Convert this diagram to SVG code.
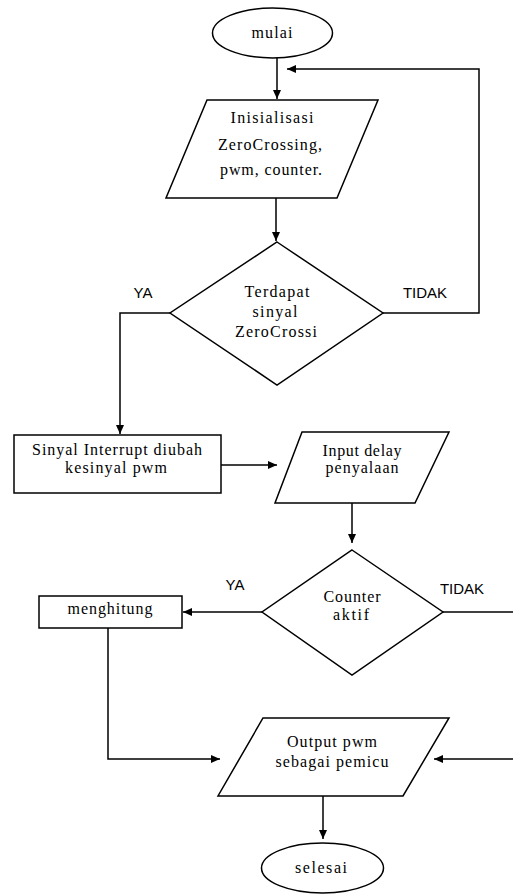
<svg xmlns="http://www.w3.org/2000/svg" width="513" height="894" viewBox="0 0 513 894">
<style>
.shape{fill:#fff;stroke:#000;stroke-width:1.5}
.line{fill:none;stroke:#000;stroke-width:1.5}
.t{font-family:"Liberation Serif","Times New Roman",serif;font-size:16px;fill:#000;text-anchor:middle}
.lbl{font-family:"Liberation Sans",Arial,sans-serif;font-size:15px;fill:#000;text-anchor:middle}
</style>
<defs>
<marker id="arr" markerUnits="userSpaceOnUse" markerWidth="10" markerHeight="10" refX="9" refY="5" orient="auto">
<path d="M0,1 L9,5 L0,9 z" fill="#000"/>
</marker>
</defs>
<rect width="513" height="894" fill="#fff"/>
<g id="connectors">
<path class="line" d="M277,58 L277,99" marker-end="url(#arr)"/>
<path class="line" d="M383,313 L479,313 L479,69 L287,69" marker-end="url(#arr)"/>
<path class="line" d="M276,198 L276,241" marker-end="url(#arr)"/>
<path class="line" d="M170,313 L120,313 L120,434" marker-end="url(#arr)"/>
<path class="line" d="M221,465 L277,465" marker-end="url(#arr)"/>
<path class="line" d="M352,503 L352,543" marker-end="url(#arr)"/>
<path class="line" d="M262,612 L183,612" marker-end="url(#arr)"/>
<path class="line" d="M443,612 L513,612"/>
<path class="line" d="M108,628 L108,759 L220,759" marker-end="url(#arr)"/>
<path class="line" d="M513,759 L434,759" marker-end="url(#arr)"/>
<path class="line" d="M323,796 L323,839" marker-end="url(#arr)"/>
<text class="lbl" x="143" y="298">YA</text>
<text class="lbl" x="425" y="298">TIDAK</text>
<text class="lbl" x="235" y="590">YA</text>
<text class="lbl" x="462" y="594">TIDAK</text>
</g>
<g id="mulai">
<ellipse class="shape" cx="272.5" cy="33" rx="60" ry="25"/>
<text class="t" x="272" y="38" textLength="41" lengthAdjust="spacing">mulai</text>
</g>
<g id="inisialisasi">
<polygon class="shape" points="207,100 378,100 337,198 166,198"/>
<text class="t" x="272" y="123" textLength="83" lengthAdjust="spacing">Inisialisasi</text>
<text class="t" x="270" y="150" textLength="104" lengthAdjust="spacing">ZeroCrossing,</text>
<text class="t" x="271" y="175" textLength="102" lengthAdjust="spacing">pwm, counter.</text>
</g>
<g id="cek-zerocrossing">
<polygon class="shape" points="277,242 383,313 277,385 170,313"/>
<text class="t" x="277" y="297" textLength="65" lengthAdjust="spacing">Terdapat</text>
<text class="t" x="275" y="317" textLength="45" lengthAdjust="spacing">sinyal</text>
<text class="t" x="276" y="337" textLength="82" lengthAdjust="spacing">ZeroCrossi</text>
</g>
<g id="sinyal-interrupt">
<rect class="shape" x="14" y="435" width="207" height="58"/>
<text class="t" x="117" y="455" textLength="170" lengthAdjust="spacing">Sinyal Interrupt diubah</text>
<text class="t" x="116" y="473" textLength="102" lengthAdjust="spacing">kesinyal pwm</text>
</g>
<g id="input-delay">
<polygon class="shape" points="302,432 449,432 415,503 275,503"/>
<text class="t" x="362" y="456" textLength="79" lengthAdjust="spacing">Input delay</text>
<text class="t" x="362" y="473" textLength="73" lengthAdjust="spacing">penyalaan</text>
</g>
<g id="counter-aktif">
<polygon class="shape" points="352,550 443,612 352,675 262,612"/>
<text class="t" x="352" y="602" textLength="57" lengthAdjust="spacing">Counter</text>
<text class="t" x="351" y="620" textLength="36" lengthAdjust="spacing">aktif</text>
</g>
<g id="menghitung">
<rect class="shape" x="39" y="596" width="143" height="32"/>
<text class="t" x="110" y="614" textLength="85" lengthAdjust="spacing">menghitung</text>
</g>
<g id="output-pwm">
<polygon class="shape" points="263,718 449,718 403,796 218,796"/>
<text class="t" x="332" y="747" textLength="90" lengthAdjust="spacing">Output pwm</text>
<text class="t" x="332" y="767" textLength="113" lengthAdjust="spacing">sebagai pemicu</text>
</g>
<g id="selesai">
<ellipse class="shape" cx="322.5" cy="868" rx="61" ry="25"/>
<text class="t" x="321" y="873" textLength="52" lengthAdjust="spacing">selesai</text>
</g>
</svg>
